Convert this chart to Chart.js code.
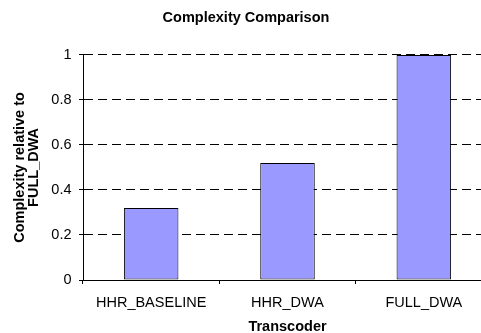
<!DOCTYPE html>
<html>
<head>
<meta charset="utf-8">
<title>Complexity Comparison</title>
<script src="https://cdn.jsdelivr.net/npm/chart.js@4/dist/chart.umd.min.js"></script>
<style>
  html, body { margin: 0; padding: 0; background: #fff; overflow: hidden; }
  #wrap { width: 481px; height: 333px; overflow: hidden; }
  canvas { display: block; }
</style>
</head>
<body>
<div id="wrap"><canvas id="c" width="499" height="340"></canvas></div>
<script>
// Transcoders compared and their complexity, normalised to FULL_DWA
const categories = ['HHR_BASELINE', 'HHR_DWA', 'FULL_DWA'];
const complexity = [0.32, 0.52, 1.0];
const yTickLabels = ['0', '0.2', '0.4', '0.6', '0.8', '1'];

const FONT = 'Liberation Sans, Arial, Helvetica, sans-serif';

new Chart(document.getElementById('c'), {
  type: 'bar',
  data: {
    labels: categories,
    datasets: [{
      label: 'Complexity',
      data: complexity,
      backgroundColor: '#9999FF',
      borderColor: '#000000',
      borderWidth: 1,
      borderSkipped: false,
      barPercentage: 0.4,
      categoryPercentage: 1.0
    }]
  },
  options: {
    responsive: false,
    animation: false,
    devicePixelRatio: 1,
    layout: { padding: { left: 0, right: 7, top: 0, bottom: 0 } },
    plugins: {
      legend: { display: false },
      tooltip: { enabled: false },
      title: {
        display: true,
        text: 'Complexity Comparison',
        color: '#000',
        font: { family: FONT, size: 14.5, weight: 'bold', lineHeight: 1.2 },
        padding: { top: 9.5, bottom: 28 }
      }
    },
    scales: {
      x: {
        grid: {
          offset: true,
          drawOnChartArea: false,
          drawTicks: true,
          tickLength: 4,
          color: '#000',
          lineWidth: 1
        },
        border: { display: true, color: '#000', width: 1 },
        ticks: {
          color: '#000',
          padding: 10,
          maxRotation: 0,
          autoSkip: false,
          font: { family: FONT, size: 14.5, lineHeight: 1.2 }
        },
        title: {
          display: true,
          text: 'Transcoder',
          color: '#000',
          font: { family: FONT, size: 14.5, weight: 'bold', lineHeight: 1.0 },
          padding: { top: 0, bottom: 6 }
        },
        afterFit(scale) { scale.height = 60; }
      },
      y: {
        min: 0,
        max: 1,
        ticks: {
          stepSize: 0.2,
          color: '#000',
          padding: 7.5,
          font: { family: FONT, size: 14.5, lineHeight: 1.2 },
          callback: (value, index) => yTickLabels[index]
        },
        grid: {
          drawOnChartArea: true,
          drawTicks: true,
          tickLength: 4,
          color: '#000',
          tickColor: '#000',
          lineWidth: 1
        },
        border: { display: true, color: '#000', width: 1, dash: [9, 5] },
        title: {
          display: true,
          text: ['Complexity relative to', 'FULL_DWA'],
          color: '#000',
          font: { family: FONT, size: 14.5, weight: 'bold', lineHeight: 1.0 },
          padding: { top: 12.25, bottom: 0 }
        },
        afterFit(scale) { scale.width = 83; }
      }
    }
  }
});
</script>
</body>
</html>
